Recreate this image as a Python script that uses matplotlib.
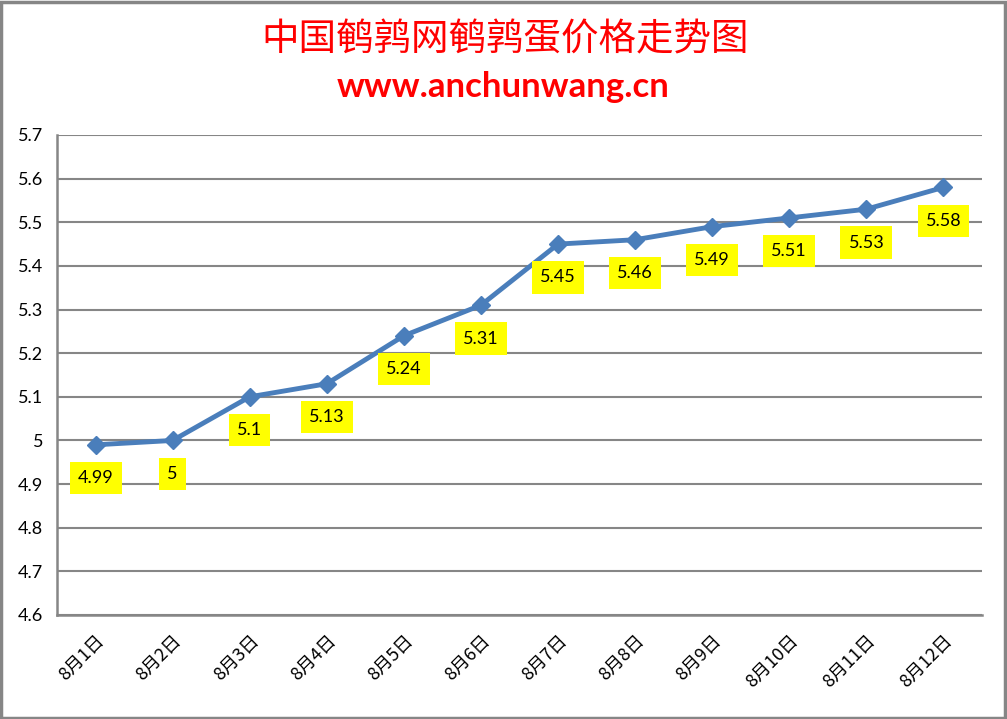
import matplotlib
matplotlib.use("Agg")
import matplotlib.pyplot as plt
from matplotlib.patches import Rectangle

plt.rcParams['font.family'] = ['Noto Sans CJK SC', 'DejaVu Sans']

# 数据
dates = ['8月1日', '8月2日', '8月3日', '8月4日', '8月5日', '8月6日',
         '8月7日', '8月8日', '8月9日', '8月10日', '8月11日', '8月12日']
prices = [4.99, 5.0, 5.1, 5.13, 5.24, 5.31, 5.45, 5.46, 5.49, 5.51, 5.53, 5.58]
price_labels = ['4.99', '5', '5.1', '5.13', '5.24', '5.31',
                '5.45', '5.46', '5.49', '5.51', '5.53', '5.58']
yticks = [4.6, 4.7, 4.8, 4.9, 5.0, 5.1, 5.2, 5.3, 5.4, 5.5, 5.6, 5.7]
ytick_labels = ['4.6', '4.7', '4.8', '4.9', '5', '5.1', '5.2', '5.3',
                '5.4', '5.5', '5.6', '5.7']

W, H = 1007, 719
fig = plt.figure(figsize=(W / 100, H / 100), dpi=100)
ax = fig.add_axes([57 / W, 1 - 615 / H, (982 - 57) / W, (615 - 135) / H])

# 外框
fig.patches.append(Rectangle((1 / W, 1 / H), 1 - 3 / W, 1 - 3 / H,
                             transform=fig.transFigure, fill=False,
                             edgecolor='#868686', linewidth=2.5))

x = list(range(len(dates)))
ax.set_xlim(-0.5, len(dates) - 0.5)
ax.set_ylim(4.6, 5.7)

ax.set_yticks(yticks)
ax.set_yticklabels(ytick_labels, fontsize=13, family=['Lato', 'DejaVu Sans'])
ax.set_xticks(x)
ax.set_xticklabels(dates, fontsize=13, rotation=45, ha='right', va='top',
                   rotation_mode='anchor')
ax.tick_params(axis='both', length=0)
ax.tick_params(axis='y', pad=10)
ax.tick_params(axis='x', pad=12)

ax.grid(axis='y', color='#868686', linewidth=1.5)
ax.set_axisbelow(True)
for side in ['top', 'right']:
    ax.spines[side].set_visible(False)
for side in ['left', 'bottom']:
    ax.spines[side].set_color('#868686')
    ax.spines[side].set_linewidth(1.8)

ax.plot(x, prices, color='#4a7ebb', linewidth=3.5, marker='D',
        markersize=9, markerfacecolor='#4a7ebb', markeredgecolor='#4a7ebb',
        zorder=3)

# 数据标签
for xi, yi, lab in zip(x, prices, price_labels):
    ax.annotate(lab, (xi, yi), xytext=(0, -24), textcoords='offset points',
                ha='center', va='center', fontsize=13,
                family=['Lato', 'DejaVu Sans'],
                bbox=dict(boxstyle='square,pad=0.45', facecolor='#ffff00',
                          edgecolor='none'))

# 标题
fig.text(505 / W, 1 - 40 / H, '中国鹌鹑网鹌鹑蛋价格走势图', ha='center',
         va='center', fontsize=27, color='#ff0000')
fig.text(503 / W, 1 - 87 / H, 'www.anchunwang.cn', ha='center',
         va='center', fontsize=25, color='#ff0000', fontweight='bold',
         family=['Lato', 'DejaVu Sans'])

fig.savefig('out.png', dpi=100)
